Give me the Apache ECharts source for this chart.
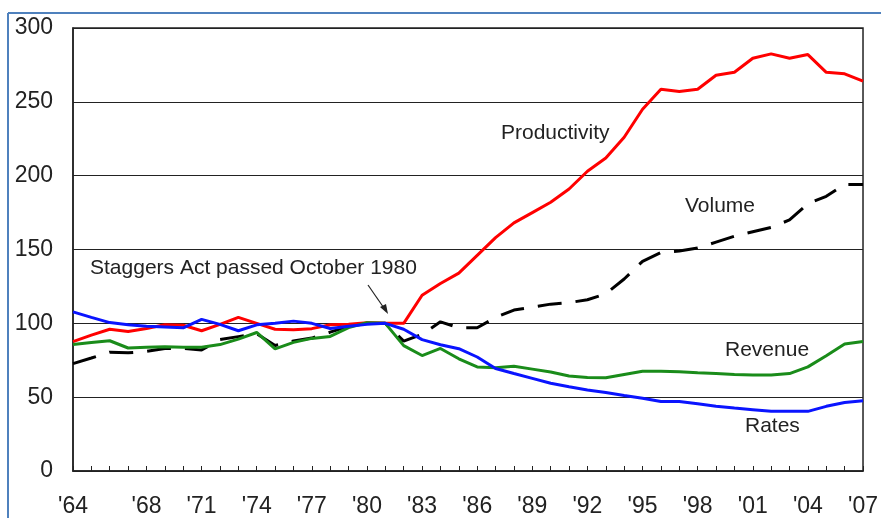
<!DOCTYPE html>
<html>
<head>
<meta charset="utf-8">
<script src="https://cdn.jsdelivr.net/npm/echarts@6/dist/echarts.min.js"></script>
<style>
  html, body { margin: 0; padding: 0; background: #fff; }
  #main { width: 881px; height: 518px; }
</style>
</head>
<body>
<div id="main"></div>
<script>
var years = [];
for (var y = 1964; y <= 2007; y++) years.push(String(y));

var productivity = [87.6, 92, 96, 94.5, 96.5, 99, 98.7, 95, 99.3, 104, 100, 96, 95.6, 96.4, 99, 99.3, 100.4, 100, 100, 119,
  127, 134, 146, 158, 168, 175, 182, 191, 203, 212, 226, 245, 258.5, 257, 258.5, 268, 270, 279.5, 282.5, 279.5, 282, 270, 269, 264];
var volume = [72.7, 76.5, 80.5, 80, 81, 83, 83, 82, 89, 91, 93, 85, 88, 90, 94, 98, 100, 100, 88, 92.5,
  101, 97, 97, 104, 109, 111, 113, 114, 116, 120, 130, 142, 148, 149, 151, 155, 159, 162, 165, 170, 181, 186, 194, 194];
var revenue = [85.6, 87, 88.2, 83.3, 83.8, 84.2, 83.8, 83.8, 85.6, 89.3, 93.8, 82.7, 87.1, 89.8, 91.1, 97.1, 100.4, 100, 84.9, 78.2,
  83, 76, 70.5, 70, 71, 69, 67, 64.3, 63.4, 63.2, 65.4, 67.5, 67.5, 67.2, 66.5, 66.1, 65.4, 65, 65, 66, 70.5, 78, 86, 87.7];
var rates = [107.8, 104, 100.5, 99, 98, 97.5, 97, 102.7, 99.3, 95, 99, 100, 101.5, 100, 96.5, 98, 99.3, 100, 96, 89,
  85.5, 82.8, 77.2, 69.4, 66, 62.7, 59.4, 57.1, 54.9, 53.1, 51.1, 49.3, 47.1, 47.1, 45.5, 43.8, 42.6, 41.5, 40.4, 40.4, 40.4, 43.8, 46.4, 47.5];
var yTicks = [0, 50, 100, 150, 200, 250, 300];

var font = "Liberation Sans, Arial, sans-serif";
var textColor = "#222";

var myChart = echarts.init(document.getElementById("main"));

function txt(text, x, y) {
  return {
    type: "text",
    left: x,
    top: y,
    style: { text: text, fill: textColor, font: "21px " + font }
  };
}

var option = {
  animation: false,
  grid: {
    left: 73,
    right: 10,
    top: 28,
    bottom: 46,
    show: true,
    borderColor: "#222",
    borderWidth: 1.5
  },
  xAxis: {
    type: "category",
    data: years,
    boundaryGap: false,
    axisLine: { lineStyle: { color: "#222", width: 1.5 } },
    axisTick: { inside: true, length: 5, interval: 0, lineStyle: { color: "#222" } },
    axisLabel: {
      margin: 24,
      color: textColor,
      fontFamily: font,
      fontSize: 23,
      hideOverlap: false,
      interval: function (index, value) {
        var n = +value;
        return n === 1964 || (n >= 1968 && (n - 1968) % 3 === 0);
      },
      formatter: function (v) {
        return "'" + v.slice(2);
      }
    },
    splitLine: { show: false }
  },
  yAxis: {
    type: "value",
    min: yTicks[0],
    max: yTicks[yTicks.length - 1],
    interval: 50,
    axisLine: { show: true, lineStyle: { color: "#222", width: 1.5 } },
    axisTick: { show: false },
    axisLabel: { margin: 20, color: textColor, fontFamily: font, fontSize: 23 },
    splitLine: { lineStyle: { color: "#222", width: 1 } }
  },
  series: [
    {
      name: "Volume",
      type: "line",
      data: volume,
      symbol: "none",
      lineStyle: { color: "#000", width: 3, type: [24, 14] }
    },
    {
      name: "Productivity",
      type: "line",
      data: productivity,
      symbol: "none",
      lineStyle: { color: "#ff0000", width: 3 }
    },
    {
      name: "Revenue",
      type: "line",
      data: revenue,
      symbol: "none",
      lineStyle: { color: "#1a8c1a", width: 3 }
    },
    {
      name: "Rates",
      type: "line",
      data: rates,
      symbol: "none",
      lineStyle: { color: "#0a14ff", width: 3 }
    }
  ],
  graphic: [
    // outer blue frame
    { type: "line", shape: { x1: 8, y1: 13, x2: 881, y2: 13 }, style: { stroke: "#4f81bd", lineWidth: 2 } },
    { type: "line", shape: { x1: 8, y1: 13, x2: 8, y2: 518 }, style: { stroke: "#4f81bd", lineWidth: 2 } },
    txt("Staggers Act passed October 1980", 90, 258),
    txt("Productivity", 501, 123),
    txt("Volume", 685, 196),
    txt("Revenue", 725, 340),
    txt("Rates", 745, 416),
    // arrow
    { type: "line", shape: { x1: 368, y1: 285, x2: 386, y2: 311 }, style: { stroke: "#222", lineWidth: 1.2 } },
    { type: "polygon", shape: { points: [[388, 314], [380, 307], [386, 304]] }, style: { fill: "#222" } }
  ]
};
myChart.setOption(option);
</script>
</body>
</html>
